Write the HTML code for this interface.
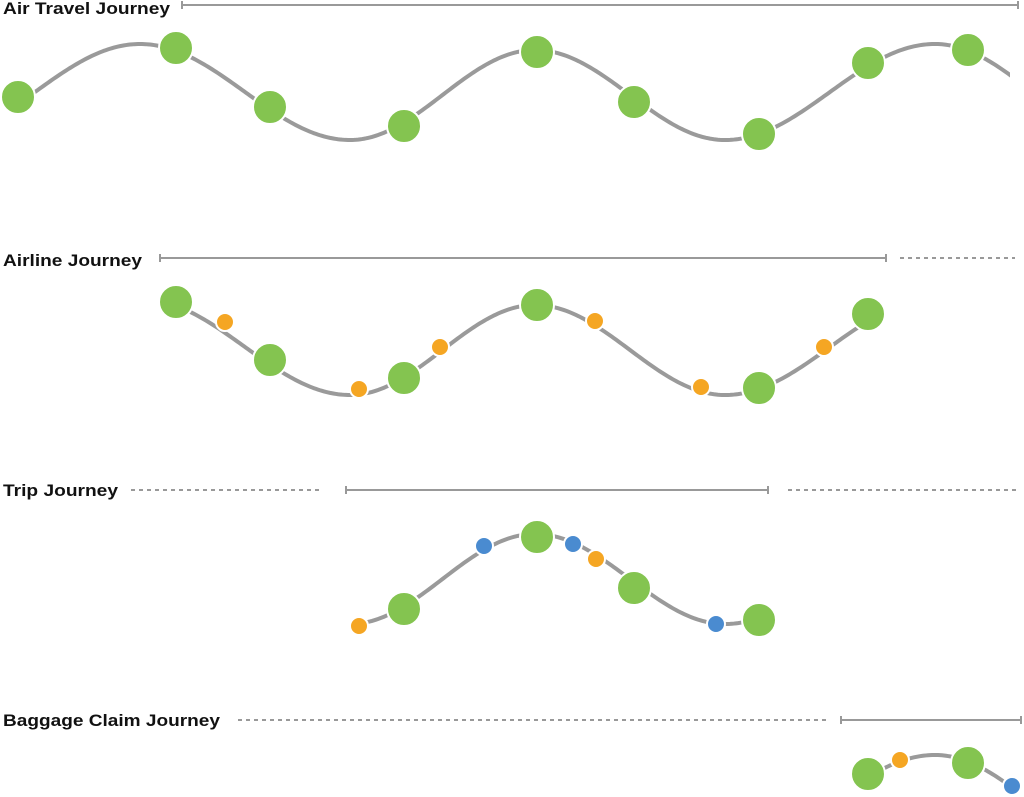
<!DOCTYPE html>
<html><head><meta charset="utf-8"><style>
html,body{margin:0;padding:0;background:#fff;overflow:hidden;width:1024px;height:797px;}
svg{display:block;}
text{font-family:"Liberation Sans",sans-serif;font-weight:bold;font-size:17px;fill:#111;}
</style></head><body>
<svg id="s" width="1024" height="797" xmlns="http://www.w3.org/2000/svg">
<defs>
<clipPath id="c1"><rect x="18" y="0" width="992" height="200"/></clipPath>
<clipPath id="c2"><rect x="176" y="250" width="693" height="200"/></clipPath>
<clipPath id="c3"><rect x="359" y="480" width="401" height="200"/></clipPath>
<clipPath id="c4"><rect x="868" y="700" width="146" height="97"/></clipPath>
</defs>
<g stroke="#999" stroke-width="2" fill="none">
<line x1="182" y1="5" x2="1018" y2="5"/><line x1="182" y1="1" x2="182" y2="9"/><line x1="1018" y1="1" x2="1018" y2="9"/>
<line x1="160" y1="258" x2="886" y2="258"/><line x1="160" y1="254" x2="160" y2="262"/><line x1="886" y1="254" x2="886" y2="262"/>
<line x1="900" y1="258" x2="1015" y2="258" stroke-dasharray="4 4"/>
<line x1="131" y1="490" x2="323" y2="490" stroke-dasharray="4 4"/>
<line x1="346" y1="490" x2="768" y2="490"/><line x1="346" y1="486" x2="346" y2="494"/><line x1="768" y1="486" x2="768" y2="494"/>
<line x1="788" y1="490" x2="1018" y2="490" stroke-dasharray="4 4"/>
<line x1="238" y1="720" x2="826" y2="720" stroke-dasharray="4 4"/>
<line x1="841" y1="720" x2="1021" y2="720"/><line x1="841" y1="716" x2="841" y2="724"/><line x1="1021" y1="716" x2="1021" y2="724"/>
</g>
<text x="3" y="14" textLength="167" lengthAdjust="spacingAndGlyphs">Air Travel Journey</text>
<text x="3" y="266" textLength="139" lengthAdjust="spacingAndGlyphs">Airline Journey</text>
<text x="3" y="496" textLength="115" lengthAdjust="spacingAndGlyphs">Trip Journey</text>
<text x="3" y="726" textLength="217" lengthAdjust="spacingAndGlyphs">Baggage Claim Journey</text>
<g id="curves"></g>
<g id="dots" stroke="#fff" stroke-width="2"></g>
</svg>
<script>
var E=[[-70,140],[140,44],[350,140],[535,50],[725,140],[935,44],[1130,140]];
function f(x){for(var i=0;i<E.length-1;i++){if(x<=E[i+1][0]){var a=E[i],b=E[i+1],t=(x-a[0])/(b[0]-a[0]);return a[1]+(b[1]-a[1])*(1-Math.cos(Math.PI*t))/2;}}return 140;}
var d="";for(var x=0;x<=1030;x+=2){d+=(x?"L":"M")+x+","+f(x).toFixed(2);}
var ns="http://www.w3.org/2000/svg",g=document.getElementById("curves");
[[0,"c1"],[255,"c2"],[484,"c3"],[711,"c4"]].forEach(function(r){
 var gg=document.createElementNS(ns,"g");gg.setAttribute("clip-path","url(#"+r[1]+")");
 var p=document.createElementNS(ns,"path");p.setAttribute("d",d);p.setAttribute("fill","none");
 p.setAttribute("stroke","#9a9a9a");p.setAttribute("stroke-width","4");
 p.setAttribute("transform","translate(0,"+r[0]+")");gg.appendChild(p);g.appendChild(gg);
});
var G="#84c450",O="#f5a623",B="#4a8bd0";
var dots=[[18,97,G,17],[176,48,G,17],[270,107,G,17],[404,126,G,17],[537,52,G,17],[634,102,G,17],[759,134,G,17],[868,63,G,17],[968,50,G,17],
[176,302,G,17],[270,360,G,17],[404,378,G,17],[537,305,G,17],[759,388,G,17],[868,314,G,17],
[225,322,O,9],[359,389,O,9],[440,347,O,9],[595,321,O,9],[701,387,O,9],[824,347,O,9],
[404,609,G,17],[537,537,G,17],[634,588,G,17],[759,620,G,17],
[359,626,O,9],[596,559,O,9],[484,546,B,9],[573,544,B,9],[716,624,B,9],
[868,774,G,17],[968,763,G,17],[900,760,O,9],[1012,786,B,9]];
var dg=document.getElementById("dots");
dots.forEach(function(c){var e=document.createElementNS(ns,"circle");e.setAttribute("cx",c[0]);e.setAttribute("cy",c[1]);e.setAttribute("r",c[3]);e.setAttribute("fill",c[2]);dg.appendChild(e);});
</script>
</body></html>
